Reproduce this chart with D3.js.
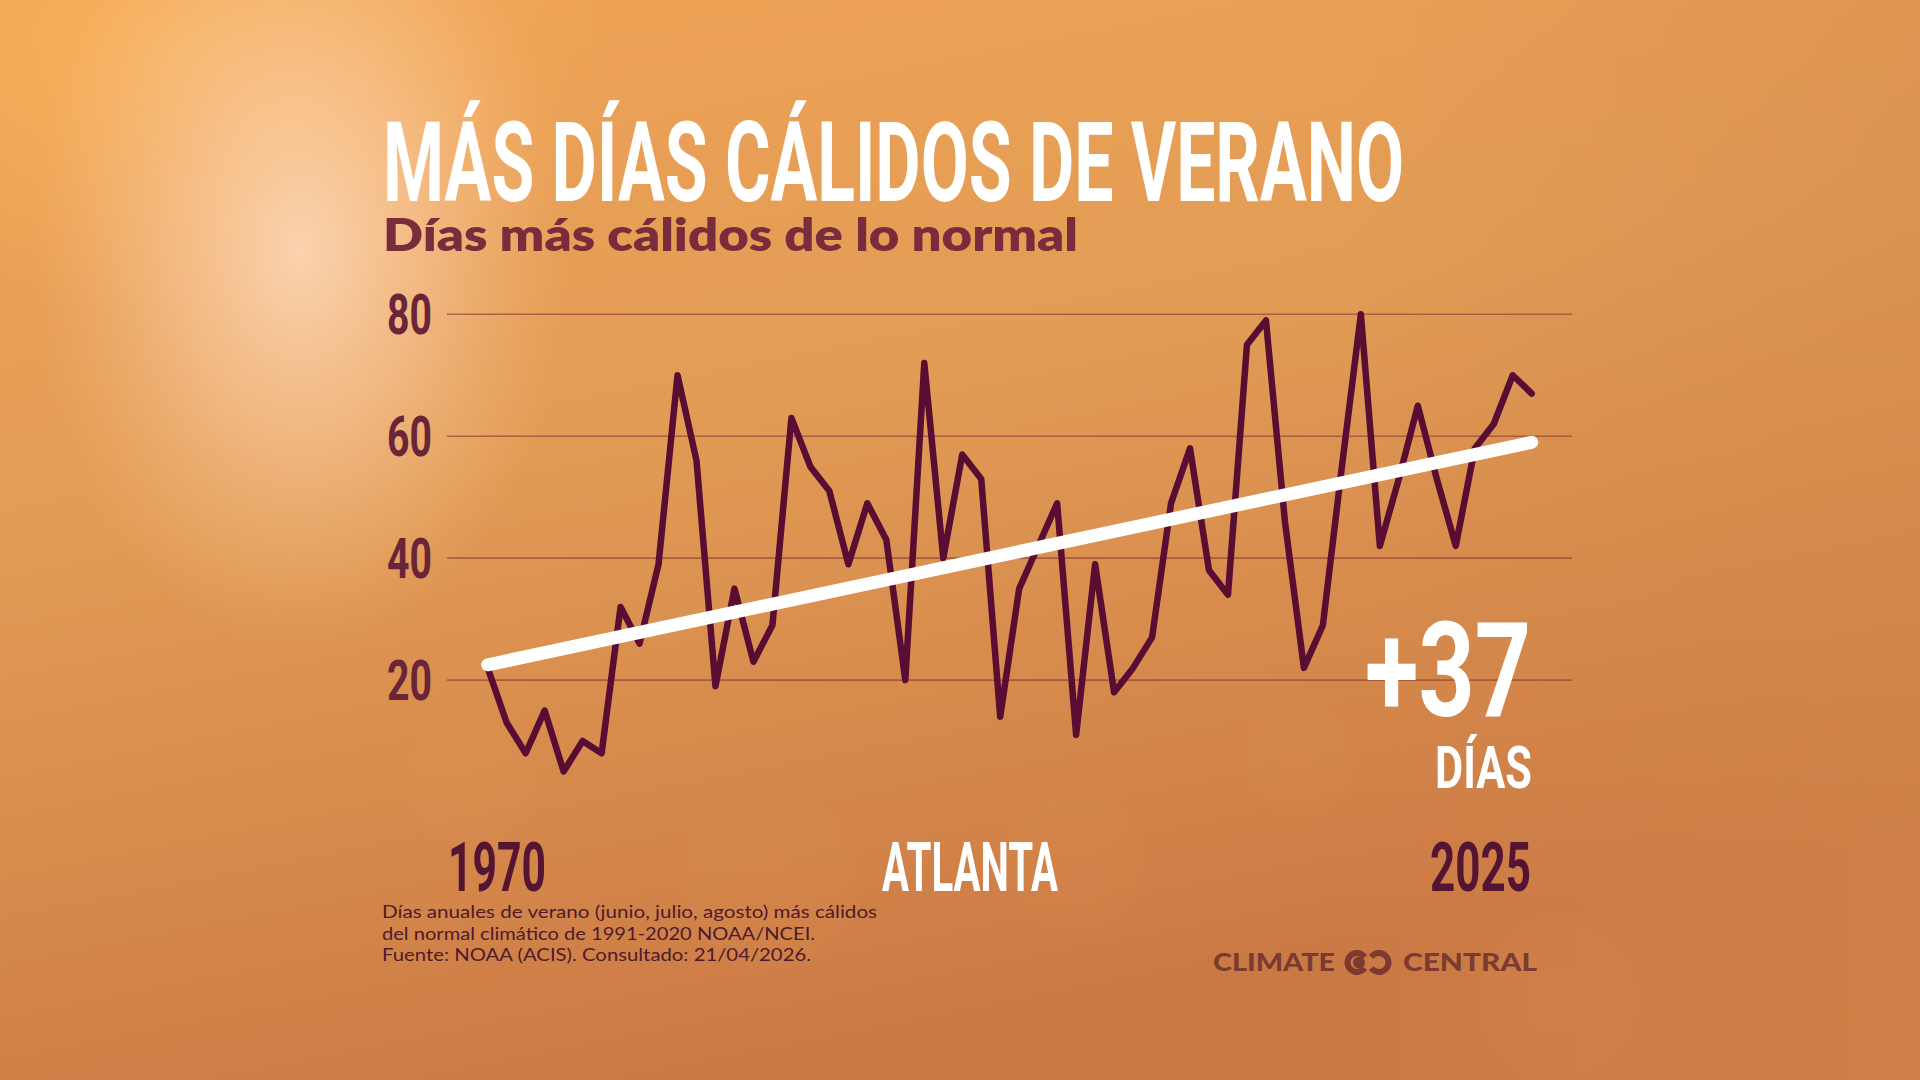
<!DOCTYPE html>
<html>
<head>
<meta charset="utf-8">
<script src="https://cdn.jsdelivr.net/npm/d3@7"></script>
<style>
  html, body { margin: 0; padding: 0; background: #e39e55; }
  svg { display: block; }
</style>
</head>
<body>
<svg id="chart" width="1920" height="1080"></svg>
<script>
// ---------- DATA ----------
const years = [1970,1971,1972,1973,1974,1975,1976,1977,1978,1979,
               1980,1981,1982,1983,1984,1985,1986,1987,1988,1989,
               1990,1991,1992,1993,1994,1995,1996,1997,1998,1999,
               2000,2001,2002,2003,2004,2005,2006,2007,2008,2009,
               2010,2011,2012,2013,2014,2015,2016,2017,2018,2019,
               2020,2021,2022,2023,2024,2025];
const warmDays = [22,13,8,15,5,10,8,32,26,39,
                  70,56,19,35,23,29,63,55,51,39,
                  49,43,20,72,40,57,53,14,35,42,
                  49,11,39,18,22,27,49,58,38,34,
                  75,79,46,22,29,55,80,42,53,65,
                  53,42,58,62,70,67];
const trendYears = [1970, 2025];
const trendValues = [22.5, 59];
const yTicks = [20, 40, 60, 80];
const titleText = "MÁS DÍAS CÁLIDOS DE VERANO";
const subtitleText = "Días más cálidos de lo normal";
const cityText = "ATLANTA";
const changeText = "+37";
const changeUnit = "DÍAS";
const footnoteLines = [
  "Días anuales de verano (junio, julio, agosto) más cálidos",
  "del normal climático de 1991-2020 NOAA/NCEI.",
  "Fuente: NOAA (ACIS). Consultado: 21/04/2026."
];
const brandWords = ["CLIMATE", "CENTRAL"];

// ---------- SETUP ----------
const svg = d3.select("#chart");
const defs = svg.append("defs");

const lin = defs.append("linearGradient").attr("id","bgLin")
  .attr("x1","0").attr("y1","0").attr("x2","0.35").attr("y2","1");
lin.append("stop").attr("offset","0%").attr("stop-color","#f0a355");
lin.append("stop").attr("offset","45%").attr("stop-color","#e29c55");
lin.append("stop").attr("offset","100%").attr("stop-color","#cb7944");

const side = defs.append("linearGradient").attr("id","bgSide")
  .attr("x1","0").attr("y1","0").attr("x2","1").attr("y2","0");
side.append("stop").attr("offset","0%").attr("stop-color","#d28a4c").attr("stop-opacity",0.0);
side.append("stop").attr("offset","70%").attr("stop-color","#d28a4c").attr("stop-opacity",0.0);
side.append("stop").attr("offset","100%").attr("stop-color","#d28a4c").attr("stop-opacity",0.4);

const glowWarm = defs.append("radialGradient").attr("id","glowWarm")
  .attr("cx","0.5").attr("cy","0.5").attr("r","0.5");
glowWarm.append("stop").attr("offset","0%").attr("stop-color","#ffbe62").attr("stop-opacity",0.6);
glowWarm.append("stop").attr("offset","100%").attr("stop-color","#ffbe62").attr("stop-opacity",0);

const glow = defs.append("radialGradient").attr("id","glow")
  .attr("cx","0.5").attr("cy","0.5").attr("r","0.5");
glow.append("stop").attr("offset","0%").attr("stop-color","#fbd6b4").attr("stop-opacity",0.95);
glow.append("stop").attr("offset","45%").attr("stop-color","#f9caa0").attr("stop-opacity",0.6);
glow.append("stop").attr("offset","100%").attr("stop-color","#f6bd88").attr("stop-opacity",0);

const bokeh = defs.append("radialGradient").attr("id","bokeh")
  .attr("cx","0.5").attr("cy","0.5").attr("r","0.5");
bokeh.append("stop").attr("offset","0%").attr("stop-color","#f0a866").attr("stop-opacity",0.07);
bokeh.append("stop").attr("offset","85%").attr("stop-color","#f0a866").attr("stop-opacity",0.05);
bokeh.append("stop").attr("offset","100%").attr("stop-color","#f0a866").attr("stop-opacity",0);

svg.append("rect").attr("width",1920).attr("height",1080).attr("fill","url(#bgLin)");
svg.append("rect").attr("width",1920).attr("height",1080).attr("fill","url(#bgSide)");
svg.append("ellipse").attr("cx",200).attr("cy",60).attr("rx",420).attr("ry",260).attr("fill","url(#glowWarm)");
svg.append("ellipse").attr("cx",300).attr("cy",250).attr("rx",270).attr("ry",400).attr("fill","url(#glow)");

const bokehDiscs = [[770,880,95],[1075,860,75],[1560,1000,90],[470,780,70],[1300,760,60]];
svg.selectAll("circle.bokeh").data(bokehDiscs).join("circle").attr("class","bokeh")
  .attr("cx",d=>d[0]).attr("cy",d=>d[1]).attr("r",d=>d[2]).attr("fill","url(#bokeh)");

// ---------- SCALES ----------
const x = d3.scaleLinear().domain([1970, 2025]).range([487.7, 1531.7]);
const y = d3.scaleLinear().domain([0, 80]).range([802, 314.3]);

const condensed = "'Roboto', 'Liberation Sans', sans-serif";

svg.append("g").selectAll("line").data(yTicks).join("line")
  .attr("x1", 447).attr("x2", 1572)
  .attr("y1", d => y(d)).attr("y2", d => y(d))
  .attr("stroke", "#9c4a3a").attr("stroke-opacity", 0.75).attr("stroke-width", 1.6);

svg.append("g").selectAll("text").data(yTicks).join("text")
  .attr("x", 432).attr("y", d => y(d) + 19.5)
  .attr("text-anchor", "end")
  .attr("font-family", condensed).attr("font-weight", 700).attr("font-size", 55)
  .attr("fill", "#6a2638")
  .attr("textLength", 45).attr("lengthAdjust", "spacingAndGlyphs")
  .text(d => d);

const data = years.map((yr, i) => ({yr, v: warmDays[i]}));
svg.append("path").datum(data)
  .attr("d", d3.line().x(d => x(d.yr)).y(d => y(d.v)))
  .attr("fill", "none").attr("stroke", "#5a0d32").attr("stroke-width", 6.5)
  .attr("stroke-linejoin", "round").attr("stroke-linecap", "round");

const trend = trendYears.map((yr, i) => ({yr, v: trendValues[i]}));
svg.append("path").datum(trend)
  .attr("d", d3.line().x(d => x(d.yr)).y(d => y(d.v)))
  .attr("fill", "none").attr("stroke", "#ffffff").attr("stroke-width", 13)
  .attr("stroke-linecap", "round");

// ---------- TEXT ----------
function txt(s, o) {
  const t = svg.append("text").text(s)
    .attr("x", o.x).attr("y", o.y)
    .attr("font-family", o.family || condensed)
    .attr("font-weight", o.weight || 700)
    .attr("font-size", o.size)
    .attr("fill", o.fill)
    .attr("text-anchor", o.anchor || "start");
  if (o.len) t.attr("textLength", o.len).attr("lengthAdjust", "spacingAndGlyphs");
  return t;
}

txt(titleText, {x: 383, y: 201, size: 111, fill: "#ffffff", len: 1021});
txt(subtitleText, {x: 383, y: 251, size: 46, fill: "#782c3c", len: 695,
  family: "'Lato', 'Open Sans', sans-serif", weight: 800});

txt(years[0], {x: 448, y: 891, size: 69, fill: "#561433", len: 98});
txt(cityText, {x: 882, y: 891, size: 69, fill: "#ffffff", len: 176});
txt(years[years.length - 1], {x: 1531, y: 891, size: 69, fill: "#561433", len: 101, anchor: "end"});

txt(changeText, {x: 1531, y: 716, size: 131, fill: "#ffffff", len: 166, anchor: "end"});
txt(changeUnit, {x: 1532, y: 788, size: 60, fill: "#ffffff", len: 97, anchor: "end"});

const fnLens = [495, 433, 429];
footnoteLines.forEach((line, i) => {
  txt(line, {x: 382, y: 918 + i * 21.5, size: 17.5, fill: "#4e1a2c",
    family: "'Lato', 'Open Sans', sans-serif", weight: 400, len: fnLens[i]});
});

// Logo
const logoCol = "#7c3a31";
txt(brandWords[0], {x: 1213, y: 971, size: 25, fill: logoCol, len: 122,
  family: "'Lato', 'Open Sans', sans-serif", weight: 900});
txt(brandWords[1], {x: 1403, y: 971, size: 25, fill: logoCol, len: 134,
  family: "'Lato', 'Open Sans', sans-serif", weight: 900});
const logo = svg.append("g");
const g = 0.2 * Math.PI;
const arcL = d3.arc().innerRadius(6.5).outerRadius(12.5).startAngle(Math.PI/2 + g).endAngle(Math.PI/2 + 2*Math.PI - g);
const arcR = d3.arc().innerRadius(6.5).outerRadius(12.5).startAngle(-Math.PI/2 + g).endAngle(-Math.PI/2 + 2*Math.PI - g);
logo.append("path").attr("d", arcL()).attr("transform", "translate(1357,962.5)").attr("fill", logoCol);
logo.append("path").attr("d", arcR()).attr("transform", "translate(1379,962.5)").attr("fill", logoCol);
logo.append("circle").attr("cx", 1359).attr("cy", 962.5).attr("r", 6).attr("fill", logoCol);
</script>
</body>
</html>
